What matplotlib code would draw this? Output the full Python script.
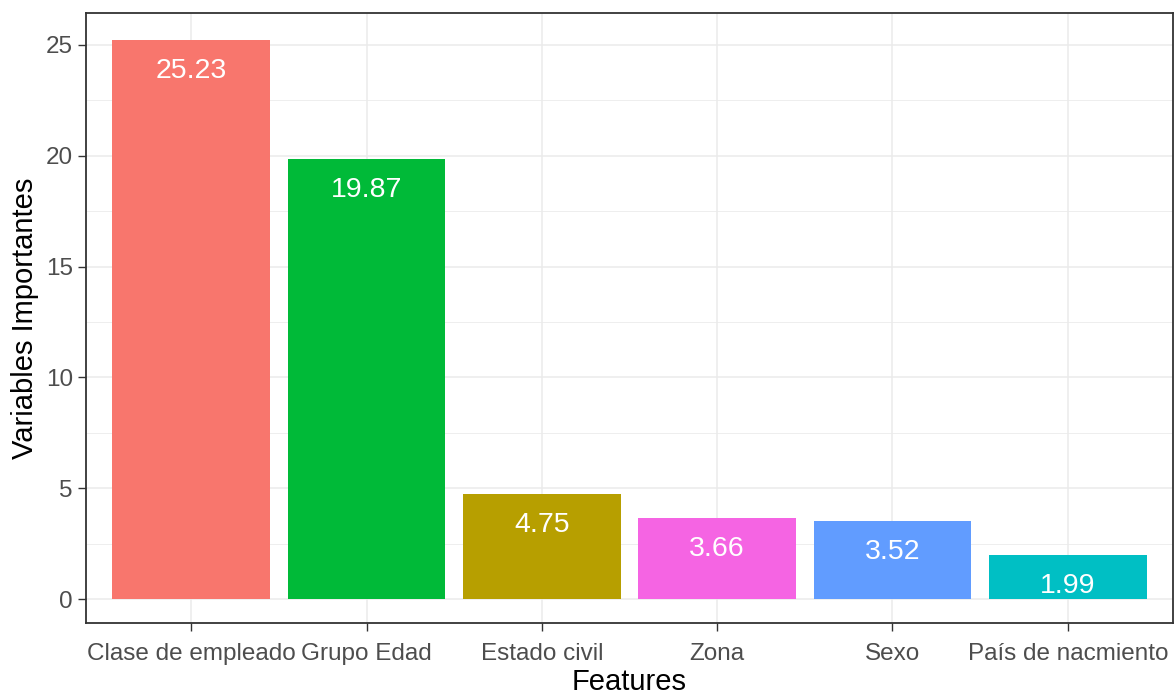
import matplotlib
matplotlib.use("Agg")
import matplotlib.pyplot as plt
import numpy as np

categories = ["Clase de empleado", "Grupo Edad", "Estado civil", "Zona", "Sexo", "País de nacmiento"]
values = [25.23, 19.87, 4.75, 3.66, 3.52, 1.99]
labels = ["25.23", "19.87", "4.75", "3.66", "3.52", "1.99"]
colors = ["#F8766D", "#00BA38", "#B79F00", "#F564E3", "#619CFF", "#00BFC4"]
yticks = [0, 5, 10, 15, 20, 25]

plt.rcParams['font.family'] = ['Liberation Sans', 'DejaVu Sans']

fig = plt.figure(figsize=(11.75, 6.97), dpi=100)
ax = fig.add_axes([86/1175, 1 - 623/697, (1173-86)/1175, (623-13)/697])

x = np.arange(1, len(categories) + 1)
ax.bar(x, values, width=0.9, color=colors, zorder=3)
for xi, v, lab in zip(x, values, labels):
    ax.annotate(lab, (xi, v), xytext=(0, -22.5), textcoords="offset points",
                ha="center", va="center", color="white", fontsize=20.5, zorder=4)

ax.set_ylim(-1.08, 26.44)
ax.set_xlim(0.4, len(categories) + 0.6)
ax.set_xticks(x)
ax.set_xticklabels(categories)
ax.set_yticks(yticks)
ax.set_yticks(np.arange(2.5, 25, 5), minor=True)

ax.grid(True, which="major", color="#EBEBEB", linewidth=1.1, zorder=0)
ax.grid(True, which="minor", axis="y", color="#EBEBEB", linewidth=0.6, zorder=0)
ax.tick_params(axis="both", which="major", length=5.5, width=1, color="#333333",
               labelcolor="#4D4D4D", labelsize=17.5, pad=4)
ax.tick_params(axis="x", which="major", pad=9)
ax.tick_params(axis="both", which="minor", length=0)
for s in ax.spines.values():
    s.set_color("#333333")
    s.set_linewidth(1.3)

ax.set_xlabel("Features", fontsize=21, color="black", labelpad=2)
ax.set_ylabel("Variables Importantes", fontsize=21, color="black", labelpad=4.5)

fig.savefig("out.png", dpi=100)
